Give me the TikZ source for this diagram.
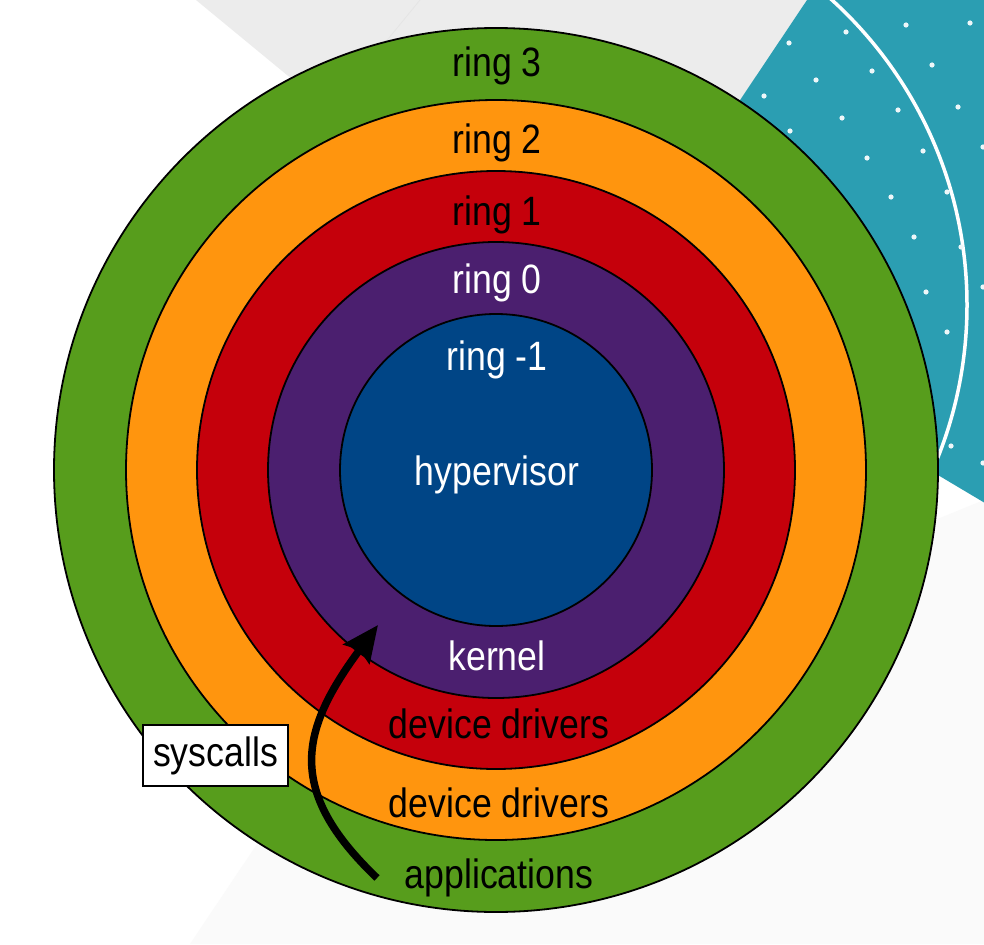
\documentclass[tikz,border=0pt]{standalone}
\usepackage{fontspec}
\setmainfont{Liberation Sans}[FakeStretch=0.87]
\usetikzlibrary{arrows.meta}
\definecolor{ringblue}{HTML}{004586}
\definecolor{ringpurple}{HTML}{4B1F6F}
\definecolor{ringred}{HTML}{C5000B}
\definecolor{ringorange}{HTML}{FF950E}
\definecolor{ringgreen}{HTML}{579D1C}
\definecolor{bgteal}{HTML}{2B9EB2}
\definecolor{bggray}{HTML}{ECECEC}
\definecolor{bglight}{HTML}{FAFAFA}
\begin{document}
\begin{tikzpicture}[x=1pt,y=-1pt,
  ringdisc/.style={circle, draw=black, line width=1.8pt, inner sep=0pt, outer sep=0pt},
  lbl/.style={anchor=base, inner sep=0pt, font=\fontsize{41}{49}\selectfont},
  tealdot/.style={fill=white!92!bgteal},
  syscallarrow/.style={line width=7.5pt, -{Stealth[length=36pt,width=32pt,inset=5pt]}}
]
\useasboundingbox (0,0) rectangle (984,944);
% background
\fill[white] (0,0) rectangle (984,944);
\fill[bglight] (190,944) -- (300,780) -- (984,500) -- (984,944) -- cycle;
\fill[bggray] (196,0) -- (560,300) -- (617,284) -- (807,0) -- cycle;
\draw[black!10, line width=0.8pt] (420,0) -- (330,110);
\fill[bgteal] (807,0) -- (617,284) -- (995,509) -- (995,0) -- cycle;
\begin{scope}
  \clip (807,0) -- (617,284) -- (995,509) -- (995,0) -- cycle;
  \draw[white, line width=3.5pt] (555,305) circle[radius=412];
  \foreach \p in {(906,25),(970,23),(846,32),(789,43),(932,65),(872,71),(816,80),
    (764,96),(958,107),(898,110),(842,118),(790,131),(983,147),(923,151),(867,158),
    (947,192),(891,197),(961,247),(914,237),(926,292),(983,287),(947,332),(951,446),(983,463)}
    \fill[tealdot] \p circle[radius=2.6];
\end{scope}
% rings
\node[ringdisc, fill=ringgreen,  minimum size=884pt] (ring3) at (496,470) {};
\node[ringdisc, fill=ringorange, minimum size=740pt] (ring2) at (496,470) {};
\node[ringdisc, fill=ringred,    minimum size=598pt] (ring1) at (496,470) {};
\node[ringdisc, fill=ringpurple, minimum size=456pt] (ring0) at (496,470) {};
\node[ringdisc, fill=ringblue,   minimum size=312pt] (ringm1) at (496,470) {};
% labels
\node[lbl, text=black] (t3) at (497,77) {ring 3};
\node[lbl, text=black] (t2) at (497,154) {ring 2};
\node[lbl, text=black] (t1) at (497,225) {ring 1};
\node[lbl, text=white] (t0) at (497,293) {ring 0};
\node[lbl, text=white] (tm1) at (497,370) {ring -1};
\node[lbl, text=white] (thyp) at (497,485) {hypervisor};
\node[lbl, text=white] (tkern) at (497,670) {kernel};
\node[lbl, text=black] (tdd1) at (499,738) {device drivers};
\node[lbl, text=black] (tdd2) at (499,817) {device drivers};
\node[lbl, text=black] (tapp) at (499,888) {applications};
% syscalls
\node[draw=black, line width=2pt, fill=white, inner sep=0pt, minimum width=145pt, minimum height=61pt,
  font=\fontsize{41}{49}\selectfont] (sys) at (215.5,755.5) {syscalls};
\coordinate (sysStart) at (377,878);
\coordinate (sysEnd) at (378,625);
\draw[syscallarrow] (sysStart) .. controls (285,790) and (300,730) .. (sysEnd);
\end{tikzpicture}
\end{document}
